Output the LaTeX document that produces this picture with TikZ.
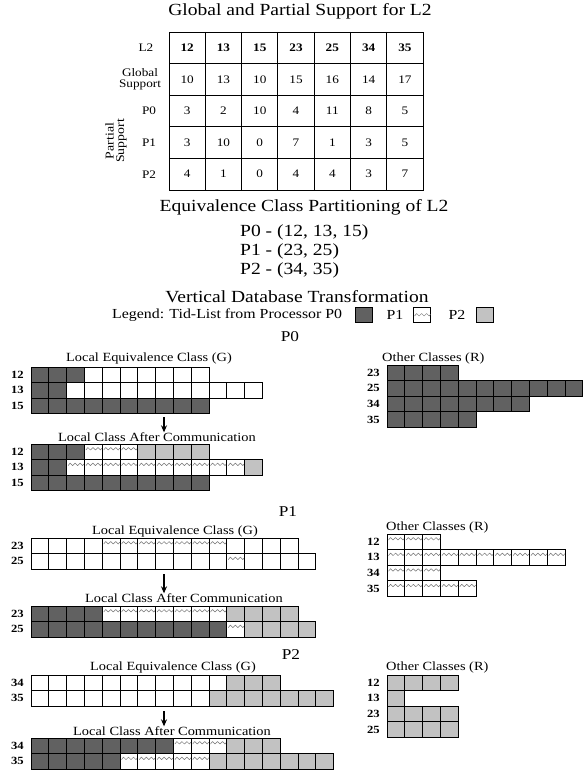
\documentclass[tikz,border=0pt]{standalone}
\usepackage{fontspec}
\setmainfont{Liberation Serif}[FakeStretch=1.15]
\usetikzlibrary{arrows.meta}
\definecolor{dg}{gray}{0.38}
\definecolor{lg}{gray}{0.76}
\definecolor{wv}{gray}{0.45}
\newcommand\fs[1]{\fontsize{#1}{#1}\selectfont}
\def\cw{17.8}
\def\rh{15.6}
\tikzset{
  cellbox/.style={draw=black,line width=0.9pt},
  celld/.style={cellbox,fill=dg},
  celll/.style={cellbox,fill=lg},
  celle/.style={cellbox,fill=white},
  cellw/.style={cellbox,fill=white},
  wave/.style={draw=wv,line width=0.5pt,line join=round},
  rlbl/.style={font=\fs{11}\bfseries,anchor=east,inner sep=0pt},
  captxt/.style={font=\fs{12.5},inner sep=0pt},
  head/.style={font=\fs{17},inner sep=0pt},
  sectxt/.style={font=\fs{15},inner sep=0pt},
  legtxt/.style={font=\fs{13.8},inner sep=0pt},
  tabt/.style={font=\fs{11.5},inner sep=0pt},
  tabh/.style={font=\fs{11.5}\bfseries,inner sep=0pt},
  arr/.style={-{Stealth[length=7pt,width=6pt]},line width=1.3pt},
  tline/.style={line width=0.9pt},
  lbox/.style={draw=black,line width=0.8pt,minimum width=17,minimum height=15,inner sep=0pt}
}
\newcommand\cells[5]{%
  \foreach \k in {1,...,#4}{%
    \pgfmathsetmacro\xa{#1+(#3+\k-1)*\cw}%
    \draw[cell#5] (\xa,#2) rectangle ++(\cw,\rh);
    \if w#5 \draw[wave] (\xa+1.5,#2+6) -- ++(2,-2.5) -- ++(2.5,2.5) -- ++(2.5,-2.5) -- ++(2.5,2.5) -- ++(2.5,-2.5) -- ++(2.5,2.5) -- ++(1.5,-1.8);\fi
  }}
\begin{document}
\begin{tikzpicture}[x=1pt,y=-1pt]
\fill[white] (0,0) rectangle (582,773);
\useasboundingbox (0,0) rectangle (582,773);

% ---------- Table ----------
\node[font=\fs{17},inner sep=0pt] (title) at (300,11) {Global and Partial Support for L2};
\draw[tline] (169,32) rectangle (423,190);
\foreach \i in {1,...,6} \draw[tline] ({169+36.3*\i},32) -- ({169+36.3*\i},190);
\foreach \j in {1,...,4} \draw[tline] (169,{32+31.6*\j}) -- (423,{32+31.6*\j});
\foreach \v [count=\i] in {12,13,15,23,25,34,35}
  \node[tabh] (h\i) at ({169+36.3*(\i-0.5)},47.8) {\v};
\foreach \v [count=\i] in {10,13,10,15,16,14,17}
  \node[tabt] (g\i) at ({169+36.3*(\i-0.5)},79.4) {\v};
\foreach \v [count=\i] in {3,2,10,4,11,8,5}
  \node[tabt] (pa\i) at ({169+36.3*(\i-0.5)},111) {\v};
\foreach \v [count=\i] in {3,10,0,7,1,3,5}
  \node[tabt] (pb\i) at ({169+36.3*(\i-0.5)},142.6) {\v};
\foreach \v [count=\i] in {4,1,0,4,4,3,7}
  \node[tabt] (pc\i) at ({169+36.3*(\i-0.5)},174.2) {\v};
\node[tabt] (rl2) at (146,47.8) {L2};
\node[tabt,align=center,font=\fontsize{11.5}{11}\selectfont] (rgs) at (140,79.4) {Global\\Support};
\node[tabt] (rp0) at (149,111) {P0};
\node[tabt] (rp1) at (149,142.6) {P1};
\node[tabt] (rp2) at (149,174.2) {P2};
\node[tabt,align=center,rotate=90,font=\fontsize{12}{10.5}\selectfont] (rps) at (116,141) {Partial\\Support};

% ---------- Partitioning ----------
\node[head] (eqh) at (304,207) {Equivalence Class Partitioning of L2};
\node[head,anchor=west] (eq0) at (240,232) {P0 - (12, 13, 15)};
\node[head,anchor=west] (eq1) at (240,251) {P1 - (23, 25)};
\node[head,anchor=west] (eq2) at (240,270) {P2 - (34, 35)};

% ---------- Legend ----------
\node[head] (vdt) at (297,297) {Vertical Database Transformation};
\node[legtxt,anchor=west] (leg) at (112,315) {Legend: Tid-List from Processor P0};
\node[lbox,fill=dg] (lgd) at (364,315) {};
\node[legtxt] (lp1) at (395,315) {P1};
\node[lbox,fill=white] (lgw) at (422,315) {};
\draw[wave] ([xshift=1.5pt,yshift=-1pt]lgw.west) -- ++(2,-2.5) -- ++(2.5,2.5) -- ++(2.5,-2.5) -- ++(2.5,2.5) -- ++(2.5,-2.5) -- ++(2.5,2.5) -- ++(1.5,-1.8);
\node[legtxt] (lp2) at (457,315) {P2};
\node[lbox,fill=lg] (lgl) at (485,315) {};

% ---------- P0 ----------
\node[sectxt] (secP0) at (290,337) {P0};
\node[captxt] (g0cap) at (149,358) {Local Equivalence Class (G)};
\cells{31}{367}{0}{3}{d}\cells{31}{367}{3}{7}{e}
\cells{31}{382.6}{0}{2}{d}\cells{31}{382.6}{2}{11}{e}
\cells{31}{398.2}{0}{10}{d}
\node[rlbl] (l0a) at (24,374.8) {12};
\node[rlbl] (l0b) at (24,390.4) {13};
\node[rlbl] (l0c) at (24,406) {15};
\coordinate (a0) at (164,417);
\node[captxt] (c0cap) at (157,437) {Local Class After Communication};
\draw[arr] (a0) -- (a0 |- c0cap.north);
\cells{31}{444}{0}{3}{d}\cells{31}{444}{3}{3}{w}\cells{31}{444}{6}{4}{l}
\cells{31}{459.6}{0}{2}{d}\cells{31}{459.6}{2}{10}{w}\cells{31}{459.6}{12}{1}{l}
\cells{31}{475.2}{0}{10}{d}
\node[rlbl] (l0d) at (24,451.8) {12};
\node[rlbl] (l0e) at (24,467.4) {13};
\node[rlbl] (l0f) at (24,483) {15};
\node[captxt,anchor=west] (r0cap) at (382,358) {Other Classes (R)};
\cells{387}{365}{0}{4}{d}
\cells{387}{380.6}{0}{11}{d}
\cells{387}{396.2}{0}{8}{d}
\cells{387}{411.8}{0}{5}{d}
\node[rlbl] (o0a) at (380,372.8) {23};
\node[rlbl] (o0b) at (380,388.4) {25};
\node[rlbl] (o0c) at (380,404) {34};
\node[rlbl] (o0d) at (380,419.6) {35};

% ---------- P1 ----------
\node[sectxt] (secP1) at (288,512) {P1};
\node[captxt] (g1cap) at (175,531) {Local Equivalence Class (G)};
\cells{31}{538}{0}{4}{e}\cells{31}{538}{4}{7}{w}\cells{31}{538}{11}{4}{e}
\cells{31}{553.6}{0}{11}{e}\cells{31}{553.6}{11}{1}{w}\cells{31}{553.6}{12}{4}{e}
\node[rlbl] (l1a) at (24,545.8) {23};
\node[rlbl] (l1b) at (24,561.4) {25};
\coordinate (a1) at (164,574);
\node[captxt] (c1cap) at (184,598) {Local Class After Communication};
\draw[arr] (a1) -- (a1 |- c1cap.north);
\cells{31}{606}{0}{4}{d}\cells{31}{606}{4}{7}{w}\cells{31}{606}{11}{4}{l}
\cells{31}{621.6}{0}{11}{d}\cells{31}{621.6}{11}{1}{w}\cells{31}{621.6}{12}{4}{l}
\node[rlbl] (l1c) at (24,613.8) {23};
\node[rlbl] (l1d) at (24,629.4) {25};
\node[captxt,anchor=west] (r1cap) at (386,527) {Other Classes (R)};
\cells{387}{534}{0}{3}{w}
\cells{387}{549.6}{0}{10}{w}
\cells{387}{565.2}{0}{3}{w}
\cells{387}{580.8}{0}{5}{w}
\node[rlbl] (o1a) at (380,541.8) {12};
\node[rlbl] (o1b) at (380,557.4) {13};
\node[rlbl] (o1c) at (380,573) {34};
\node[rlbl] (o1d) at (380,588.6) {35};

% ---------- P2 ----------
\node[sectxt] (secP2) at (291,655) {P2};
\node[captxt] (g2cap) at (173,667) {Local Equivalence Class (G)};
\cells{31}{675}{0}{11}{e}\cells{31}{675}{11}{3}{l}
\cells{31}{690.6}{0}{10}{e}\cells{31}{690.6}{10}{7}{l}
\node[rlbl] (l2a) at (24,682.8) {34};
\node[rlbl] (l2b) at (24,698.4) {35};
\coordinate (a2) at (164,711);
\node[captxt] (c2cap) at (172,731) {Local Class After Communication};
\draw[arr] (a2) -- (a2 |- c2cap.north);
\cells{31}{738}{0}{8}{d}\cells{31}{738}{8}{3}{w}\cells{31}{738}{11}{3}{l}
\cells{31}{753.6}{0}{5}{d}\cells{31}{753.6}{5}{5}{w}\cells{31}{753.6}{10}{7}{l}
\node[rlbl] (l2c) at (24,745.8) {34};
\node[rlbl] (l2d) at (24,761.4) {35};
\node[captxt,anchor=west] (r2cap) at (386,667) {Other Classes (R)};
\cells{387}{675}{0}{4}{l}
\cells{387}{690.6}{0}{1}{l}
\cells{387}{706.2}{0}{4}{l}
\cells{387}{721.8}{0}{4}{l}
\node[rlbl] (o2a) at (380,682.8) {12};
\node[rlbl] (o2b) at (380,698.4) {13};
\node[rlbl] (o2c) at (380,714) {23};
\node[rlbl] (o2d) at (380,729.6) {25};
\end{tikzpicture}
\end{document}
